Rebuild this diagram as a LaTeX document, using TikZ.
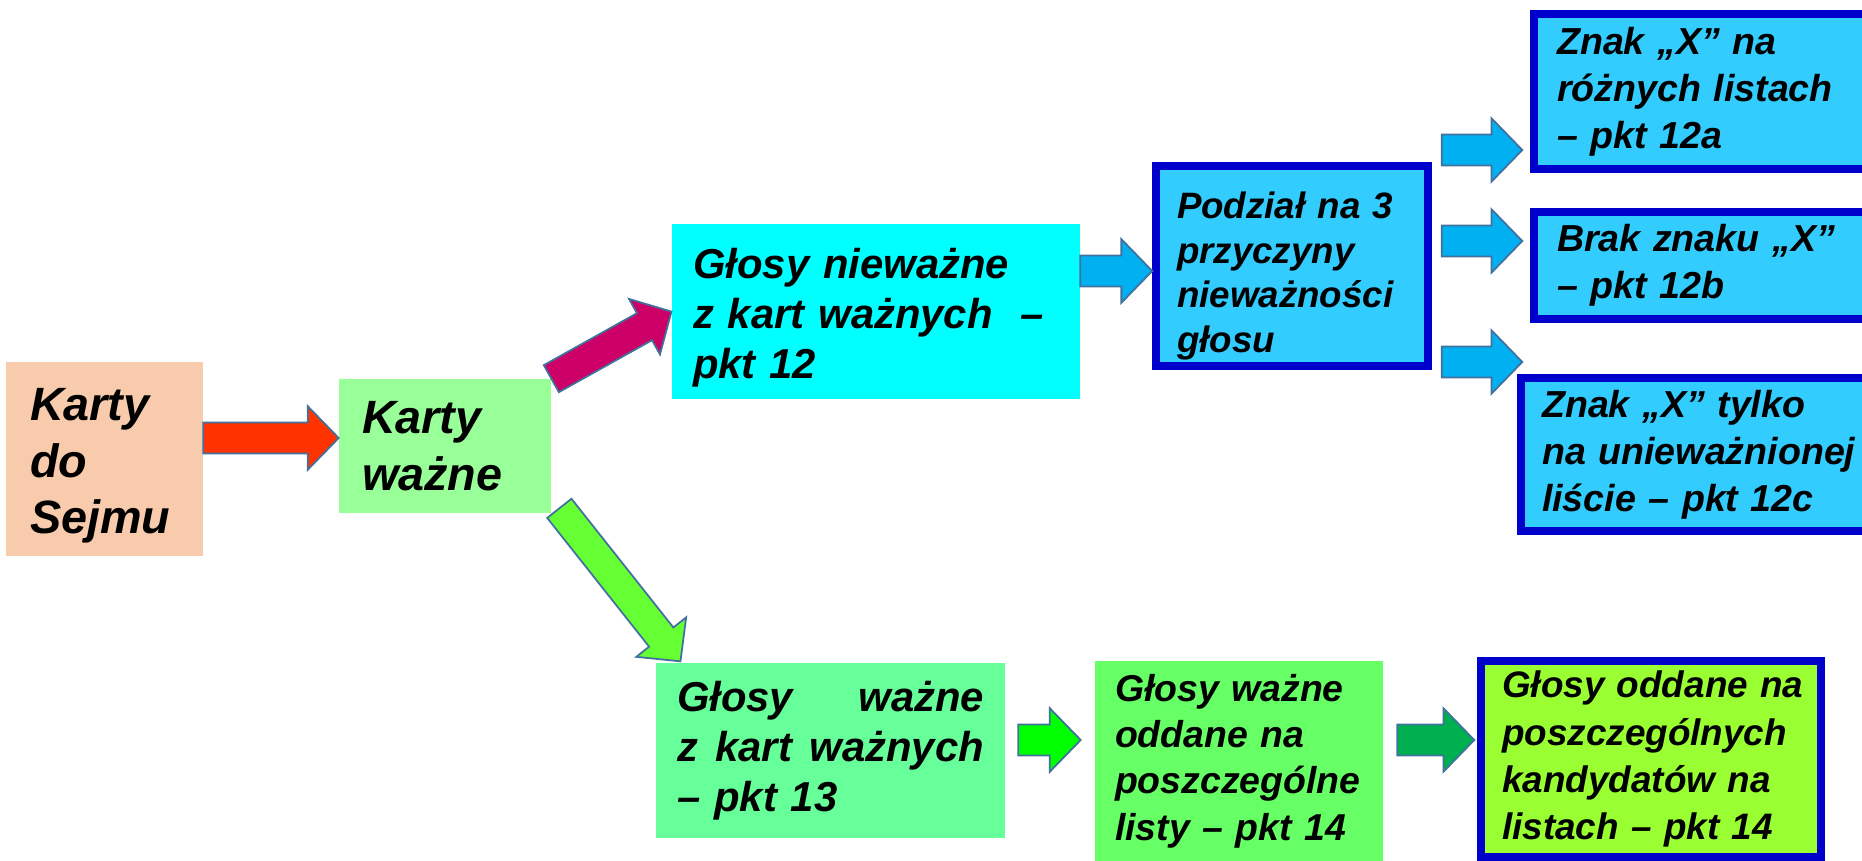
\documentclass[tikz,border=0pt]{standalone}
\usepackage{fontspec}
\setmainfont{Liberation Sans}
\usetikzlibrary{calc}

\definecolor{peach}{HTML}{F8CBAD}
\definecolor{palegreen}{HTML}{99FF99}
\definecolor{aqua}{HTML}{00FFFF}
\definecolor{skyfill}{HTML}{33CCFF}
\definecolor{deepblue}{HTML}{0000CC}
\definecolor{mintgreen}{HTML}{66FF99}
\definecolor{lightgreen}{HTML}{66FF66}
\definecolor{limegreen}{HTML}{99FF33}
\definecolor{arrowline}{HTML}{41719C}
\definecolor{arrowred}{HTML}{FF3300}
\definecolor{arrowmagenta}{HTML}{CC0066}
\definecolor{arrowblue}{HTML}{00B0F0}
\definecolor{arrowlime}{HTML}{66FF33}
\definecolor{arrowgreen}{HTML}{00FF00}
\definecolor{arrowdark}{HTML}{00B050}

\tikzset{
  card/.style={rectangle, inner ysep=0pt, align=left},
  bigtext/.style={font=\fontsize{26.6}{32.3}\selectfont\bfseries\itshape},
  midtext/.style={font=\fontsize{23.8}{28.6}\selectfont\bfseries\itshape},
  smalltext/.style={font=\fontsize{21.3}{26.4}\selectfont\bfseries\itshape},
  listtext/.style={font=\fontsize{21}{26.8}\selectfont\bfseries\itshape},
  sidetext/.style={font=\fontsize{21.4}{26.8}\selectfont\bfseries\itshape},
  causetext/.style={font=\fontsize{20.9}{25.3}\selectfont\bfseries\itshape},
  framed/.style={draw=deepblue, line width=0.15cm, fill=skyfill}
}

\newcommand{\bigarrow}[3]{%
  \path[fill=#1, draw=arrowline, line width=1pt]
    let \p1=#2, \p2=#3,
        \n1={atan2(\y2-\y1,\x2-\x1)},
        \n2={veclen(\x2-\x1,\y2-\y1)} in
    [shift={(\p1)}, rotate=\n1]
    (0pt,-8.8pt) -- ({(\n2-17.6)*1pt},-8.8pt) -- ({(\n2-17.6)*1pt},-18.1pt)
    -- ({\n2*1pt},0pt) -- ({(\n2-17.6)*1pt},18.1pt) -- ({(\n2-17.6)*1pt},8.8pt)
    -- (0pt,8.8pt) -- cycle;
}

\begin{document}
\begin{tikzpicture}[x=0.02cm, y=0.02cm]
\useasboundingbox (0,0) rectangle (1862,-861);

\node[card, bigtext, fill=peach, minimum height=3.88cm, inner xsep=0.48cm, text width=2.98cm] (sejm) at (104.5,-459) {\rule{0pt}{26.2pt}Karty\\do\\Sejmu};
\node[card, bigtext, fill=palegreen, minimum height=2.68cm, inner xsep=0.46cm, text width=3.32cm] (wazne) at (445,-446) {Karty\\ważne};

\node[card, midtext, fill=aqua, minimum height=3.5cm, inner xsep=0.42cm, text width=7.32cm] (niewazne) at (876,-311.5) {\rule{0pt}{24.2pt}Głosy nieważne\\z kart ważnych\ \ –\\pkt 12};
\node[card, causetext, framed, minimum height=4cm, inner xsep=0.42cm, text width=4.6cm] (podzial) at (1292,-266) {\rule{0pt}{26.7pt}Podział na 3\\przyczyny\\nieważności\\głosu};

\node[card, sidetext, framed, minimum height=3.1cm, inner xsep=0.46cm, text width=7.4cm] (znakA) at (1742,-91.5) {Znak „X” na\\różnych listach\\– pkt 12a};
\node[card, sidetext, framed, minimum height=2.14cm, inner xsep=0.46cm, text width=7.4cm] (brak) at (1742,-265.5) {Brak znaku „X”\\– pkt 12b};
\node[card, sidetext, framed, minimum height=3.06cm, inner xsep=0.42cm, text width=7.74cm] (znakC) at (1735.5,-454.5) {Znak „X” tylko\\na unieważnionej\\liście – pkt 12c};

\node[card, midtext, fill=mintgreen, minimum height=3.5cm, inner xsep=0.42cm, text width=6.14cm] (wazneG) at (830.5,-750.5) {\makebox[6.14cm][l]{Głosy\hfill ważne}\\\makebox[6.14cm][l]{z\hfill kart\hfill ważnych}\\– pkt 13};
\node[card, smalltext, fill=lightgreen, minimum height=4cm, inner xsep=0.4cm, text width=4.96cm] (oddane) at (1239,-761) {Głosy ważne\\oddane na\\poszczególne\\listy – pkt 14};
\node[card, listtext, framed, fill=limegreen, minimum height=3.92cm, inner xsep=0.42cm, text width=5.96cm] (kand) at (1651,-759) {\mbox{Głosy oddane na}\\poszczególnych\\kandydatów na\\listach – pkt 14};

\bigarrow{arrowred}{(sejm.east |- 0,-438)}{(wazne.west |- 0,-438)}
\bigarrow{arrowmagenta}{(wazne.north east)}{(niewazne.west)}
\bigarrow{arrowlime}{($(wazne.south east)+(8,5)$)}{($(wazneG.north west)+(25,1)$)}
\bigarrow{arrowblue}{(niewazne.east |- 0,-271)}{(podzial.west |- 0,-271)}
\bigarrow{arrowblue}{($(podzial.east |- 0,-150)+(10,0)$)}{($(znakA.west |- 0,-150)+(-8,0)$)}
\bigarrow{arrowblue}{($(podzial.east |- 0,-241)+(10,0)$)}{($(brak.west |- 0,-241)+(-8,0)$)}
\bigarrow{arrowblue}{($(podzial.east |- 0,-362)+(10,0)$)}{($(znakC.west |- 0,-362)+(5,0)$)}
\bigarrow{arrowgreen}{($(wazneG.east |- 0,-740)+(13,0)$)}{($(oddane.west |- 0,-740)+(-14,0)$)}
\bigarrow{arrowdark}{($(oddane.east |- 0,-740)+(14,0)$)}{($(kand.west |- 0,-740)+(-3,0)$)}

\end{tikzpicture}
\end{document}
